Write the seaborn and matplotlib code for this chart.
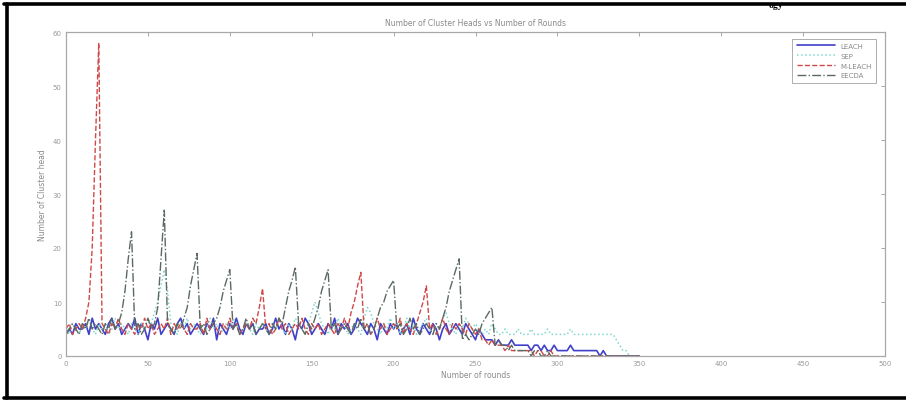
import numpy as np
import pandas as pd
import matplotlib
matplotlib.use("Agg")
import matplotlib.pyplot as plt
from matplotlib.lines import Line2D
import seaborn as sns

rounds = list(range(0, 352, 2))

leach = [
    4, 5, 4, 6, 5, 5, 6, 4, 7, 5, 6, 5, 4, 6, 7, 5, 6, 4, 5, 6,
    5, 7, 4, 6, 5, 3, 6, 5, 7, 4, 5, 6, 5, 4, 6, 7, 5, 6, 4, 5,
    6, 5, 4, 6, 5, 7, 3, 6, 5, 4, 6, 5, 7, 5, 4, 6, 5, 6, 4, 5,
    5, 6, 4, 5, 7, 5, 6, 4, 6, 5, 3, 6, 5, 7, 6, 4, 5, 6, 5, 4,
    6, 5, 7, 4, 6, 5, 6, 4, 5, 7, 6, 5, 4, 6, 5, 3, 6, 5, 4, 6,
    5, 6, 4, 5, 6, 4, 7, 5, 4, 6, 5, 4, 6, 5, 3, 5, 6, 4, 5, 6,
    5, 4, 6, 5, 4, 3, 5, 4, 3, 3, 3, 2, 3, 2, 2, 2, 3, 2, 2, 2,
    2, 2, 1, 2, 2, 1, 2, 1, 1, 2, 1, 1, 1, 1, 2, 1, 1, 1, 1, 1,
    1, 1, 1, 0, 1, 0, 0, 0, 0, 0, 0, 0, 0, 0, 0, 0,
]

sep = [
    5, 4, 6, 5, 4, 6, 5, 7, 5, 4, 6, 5, 6, 4, 5, 7, 5, 6, 5, 4,
    6, 5, 4, 6, 5, 7, 6, 8, 10, 13, 16, 12, 6, 5, 4, 6, 5, 7, 5, 6,
    5, 4, 6, 5, 7, 5, 6, 4, 5, 6, 5, 7, 6, 4, 5, 6, 5, 4, 6, 5,
    6, 5, 4, 6, 5, 7, 5, 4, 6, 5, 7, 6, 5, 4, 6, 8, 10, 8, 6, 5,
    4, 6, 5, 7, 5, 6, 4, 5, 6, 5, 4, 7, 9, 8, 6, 5, 4, 6, 5, 7,
    5, 6, 4, 5, 7, 5, 6, 4, 5, 6, 7, 5, 4, 6, 5, 7, 8, 6, 5, 4,
    6, 5, 7, 6, 5, 6, 5, 4, 5, 4, 6, 5, 4, 4, 5, 4, 4, 4, 5, 4,
    4, 4, 5, 4, 4, 4, 4, 5, 4, 4, 4, 4, 4, 4, 5, 4, 4, 4, 4, 4,
    4, 4, 4, 4, 4, 4, 4, 4, 3, 2, 1, 1, 0, 0, 0, 0,
]

mleach = [
    5, 6, 4, 5, 6, 5, 7, 10, 20, 40, 58, 6, 5, 4, 6, 5, 7, 5, 4, 6,
    5, 4, 6, 5, 7, 5, 6, 4, 5, 6, 5, 7, 4, 6, 5, 6, 5, 4, 6, 5,
    5, 6, 4, 7, 5, 6, 5, 4, 6, 5, 7, 5, 6, 4, 5, 6, 5, 7, 6, 9,
    12.5, 5, 6, 4, 5, 7, 5, 6, 4, 5, 6, 5, 7, 5, 4, 6, 5, 6, 4, 5,
    6, 5, 4, 6, 5, 7, 5, 8, 10, 13, 15.5, 5, 6, 4, 5, 7, 5, 6, 4, 5,
    6, 5, 7, 4, 6, 5, 4, 6, 8, 10, 13, 5, 6, 4, 5, 7, 5, 4, 6, 5,
    6, 5, 4, 6, 5, 4, 5, 3, 3, 2, 3, 2, 2, 2, 1, 2, 1, 1, 1, 1,
    1, 1, 1, 0, 1, 1, 0, 0, 1, 0, 0, 0, 0, 0, 0, 0, 0, 0, 0, 0,
    0, 0, 0, 0, 0, 0, 0, 0, 0, 0, 0, 0, 0, 0, 0, 0,
]

eecda = [
    4, 5, 6, 5, 4, 6, 5, 7, 5, 6, 5, 4, 6, 5, 7, 5, 6, 8, 12, 18,
    23, 5, 6, 4, 5, 7, 5, 6, 9, 18, 27, 6, 5, 4, 6, 5, 7, 9, 13, 16,
    19, 5, 6, 4, 5, 6, 7, 9, 12, 14, 16, 5, 6, 4, 5, 7, 5, 6, 4, 5,
    6, 5, 4, 6, 5, 7, 6, 9, 12, 14, 16.5, 6, 5, 4, 6, 5, 7, 9, 12, 14,
    16, 5, 6, 4, 5, 6, 5, 4, 6, 5, 7, 5, 6, 4, 5, 7, 9, 10, 12, 13,
    14, 5, 6, 4, 5, 7, 5, 6, 4, 5, 6, 5, 4, 6, 5, 7, 9, 12, 14, 16,
    18, 3, 4, 3, 4, 5, 4, 6, 7, 8, 9, 2, 3, 2, 2, 1, 2, 1, 1, 1,
    1, 1, 0, 1, 1, 0, 0, 1, 0, 0, 0, 0, 0, 0, 0, 0, 0, 0, 0, 0,
    0, 0, 0, 0, 0, 0, 0, 0, 0, 0, 0, 0, 0, 0, 0, 0,
]

series_names = ["LEACH", "SEP", "M-LEACH", "EECDA"]
x_ticks = [0, 50, 100, 150, 200, 250, 300, 350, 400, 450, 500]
y_ticks = [0, 10, 20, 30, 40, 50, 60]

df = pd.concat([
    pd.DataFrame({"round": rounds, "value": vals, "series": name})
    for name, vals in zip(series_names, [leach, sep, mleach, eecda])
], ignore_index=True)

sns.set_theme(style="white")
plt.rcParams['font.family'] = ['DejaVu Sans']

styles = {
    "LEACH": dict(color="#4040c8", linestyle="-", linewidth=1.2),
    "SEP": dict(color="#7fd6cf", linestyle=":", linewidth=1.1),
    "M-LEACH": dict(color="#d04848", linestyle="--", linewidth=1.0),
    "EECDA": dict(color="#5a6a60", linestyle="-.", linewidth=1.0),
}

fig = plt.figure(figsize=(9.06, 4.02), dpi=100)
ax = fig.add_axes([66/906, 1-357/402, (885-66)/906, (357-33)/402])

for name in series_names:
    sub = df[df["series"] == name]
    sns.lineplot(data=sub, x="round", y="value", ax=ax, label=name,
                 **styles[name])

txt = "#8a8a8a"
ax.set_xlim(0, 500)
ax.set_ylim(0, 60)
ax.set_xticks(x_ticks)
ax.set_yticks(y_ticks)
ax.set_xticklabels([str(v) for v in x_ticks], fontsize=5, color=txt)
ax.set_yticklabels([str(v) for v in y_ticks], fontsize=5, color=txt)
ax.tick_params(direction="in", length=3, width=0.6, colors="#9a9a9a",
               top=True, right=True, pad=3)
for s in ax.spines.values():
    s.set_color("#a8a8a8")
    s.set_linewidth(0.9)
ax.set_title("Number of Cluster Heads vs Number of Rounds", fontsize=5.5,
             color=txt, pad=5)
ax.set_xlabel("Number of rounds", fontsize=5.5, color=txt, labelpad=3)
ax.set_ylabel("Number of Cluster head", fontsize=5.5, color=txt, labelpad=4)

leg = ax.legend(loc="upper right", fontsize=5, frameon=True, fancybox=False,
                edgecolor="#9a9a9a", handlelength=5.5, borderpad=0.6,
                labelspacing=0.55, bbox_to_anchor=(0.993, 0.99))
leg.get_frame().set_linewidth(0.7)
for t in leg.get_texts():
    t.set_color(txt)

# page fragment and black frame
fig.add_artist(Line2D([0.004, 1.0], [1-4.5/402, 1-4.5/402], color="black", lw=2.6,
                      transform=fig.transFigure))
fig.add_artist(Line2D([7/906, 7/906], [1-4.5/402, 1-399/402], color="black", lw=2.6,
                      transform=fig.transFigure))
fig.add_artist(Line2D([0.004, 1.0], [1-399/402, 1-399/402], color="black", lw=2.6,
                      transform=fig.transFigure))
fig.text(776/906, 1-0.5/402, "ogy", fontsize=7, fontweight="bold",
         family="Liberation Serif", ha="center", va="top", color="black")

fig.savefig("out.png", dpi=100)
